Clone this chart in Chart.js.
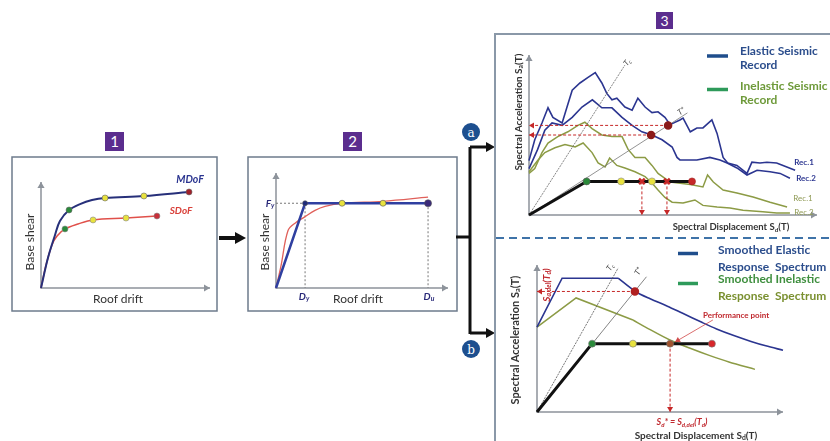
<!DOCTYPE html>
<html lang="en">
<head>
<meta charset="UTF-8">
<title>From pushover curve to performance point</title>
<script src="https://cdn.jsdelivr.net/npm/chart.js"></script>
<style>
  body { margin: 0; width: 830px; height: 441px; overflow: hidden; background: #fff;
         font-family: Lato, "Open Sans", sans-serif; position: relative; color: #333; }
  .plot { position: absolute; }
  .t { position: absolute; white-space: nowrap; transform: translate(-50%, -50%); }
  .v { position: absolute; white-space: nowrap; transform: translate(-50%, -50%) rotate(-90deg); }
  .l { position: absolute; white-space: nowrap; font-weight: bold; font-size: 12px; line-height: 14px; }
  .tag { position: absolute; width: 19px; height: 19px; background: #5b2d8e; color: #fff;
         font-size: 15px; line-height: 19px; text-align: center; }
  sub { font-size: 68%; vertical-align: -0.25em; }
  svg { position: absolute; left: 0; top: 0; }
</style>
</head>
<body>

<!-- frames, block arrows, bracket -->
<svg width="830" height="441">
  <rect x="12" y="157" width="205" height="154" fill="none" stroke="#6d7b8c" stroke-width="1.5"/>
  <rect x="248" y="157" width="209" height="154" fill="none" stroke="#6d7b8c" stroke-width="1.5"/>
  <line x1="219" y1="238" x2="238" y2="238" stroke="#111" stroke-width="4"/>
  <polygon points="235,232 246,238 235,244" fill="#111"/>
  <line x1="456" y1="237" x2="471" y2="237" stroke="#111" stroke-width="3"/>
  <line x1="470" y1="147" x2="470" y2="334" stroke="#111" stroke-width="3"/>
  <line x1="470" y1="147" x2="488" y2="147" stroke="#111" stroke-width="3"/>
  <polygon points="486,142 495,147 486,152" fill="#111"/>
  <line x1="470" y1="333" x2="488" y2="333" stroke="#111" stroke-width="3"/>
  <polygon points="486,328 495,333 486,338" fill="#111"/>
  <circle cx="471" cy="132" r="9" fill="#1d4f8f"/>
  <circle cx="471" cy="349" r="9" fill="#1d4f8f"/>
  <text x="471" y="136.5" fill="#fff" font-family="DejaVu Serif, serif" font-size="12" text-anchor="middle">a</text>
  <text x="471" y="353.5" fill="#fff" font-family="DejaVu Serif, serif" font-size="12" text-anchor="middle">b</text>
  <polyline points="830,34 495,34 495,441" fill="none" stroke="#8a98a8" stroke-width="2"/>
  <line x1="496" y1="238" x2="830" y2="238" stroke="#3f73a8" stroke-width="2" stroke-dasharray="8 5"/>
  <line x1="707" y1="56" x2="728" y2="56" stroke="#1f4e8c" stroke-width="3.5"/>
  <line x1="707" y1="89.5" x2="728" y2="89.5" stroke="#2e9a5a" stroke-width="3.5"/>
  <line x1="678" y1="253.5" x2="698" y2="253.5" stroke="#1f4e8c" stroke-width="3.5"/>
  <line x1="678" y1="283.5" x2="698" y2="283.5" stroke="#2e9a5a" stroke-width="3.5"/>
</svg>

<div class="plot" style="left:31px;top:172px;width:189px;height:126px"><canvas id="c1"></canvas></div>
<div class="plot" style="left:266px;top:163px;width:192px;height:135px"><canvas id="c2"></canvas></div>
<div class="plot" style="left:519px;top:45px;width:308px;height:180px"><canvas id="c3a"></canvas></div>
<div class="plot" style="left:527px;top:255px;width:266px;height:167px"><canvas id="c3b"></canvas></div>

<!-- panel tags -->
<div class="tag" style="left:105px;top:132px">1</div>
<div class="tag" style="left:343px;top:132px">2</div>
<div class="tag" style="left:656px;top:12px;width:17px;height:17px;line-height:17px;font-size:14px">3</div>

<!-- panel 1 -->
<div class="v" style="left:29px;top:242px;font-size:12px">Base shear</div>
<div class="t" style="left:118px;top:298px;font-size:12px">Roof drift</div>
<div class="t" style="left:190px;top:179px;font-size:10.5px;font-weight:bold;font-style:italic;color:#2b3590">MDoF</div>
<div class="t" style="left:181px;top:210px;font-size:10px;font-weight:bold;font-style:italic;color:#d9413a">SDoF</div>

<!-- panel 2 -->
<div class="v" style="left:264px;top:242px;font-size:12px">Base shear</div>
<div class="t" style="left:358px;top:298px;font-size:12px">Roof drift</div>
<div class="t" style="left:270px;top:203px;font-size:10px;font-weight:bold;font-style:italic;color:#2b2b7a">F<sub>y</sub></div>
<div class="t" style="left:304px;top:296px;font-size:10px;font-weight:bold;font-style:italic;color:#2b2b7a">D<sub>y</sub></div>
<div class="t" style="left:429px;top:296px;font-size:10px;font-weight:bold;font-style:italic;color:#2b2b7a">D<sub>u</sub></div>

<!-- panel 3a -->
<div class="v" style="left:518px;top:112px;font-size:10px;font-weight:bold">Spectral Acceleration S<sub>a</sub>(T)</div>
<div class="t" style="left:731px;top:227px;font-size:9.5px;font-weight:bold">Spectral Displacement S<sub>d</sub>(T)</div>
<div class="t" style="left:627px;top:62px;font-size:8px;font-style:italic;color:#444;transform:translate(-50%,-50%) rotate(-50deg)">T<sub>c</sub></div>
<div class="t" style="left:681px;top:111px;font-size:8px;font-style:italic;color:#444;transform:translate(-50%,-50%) rotate(-35deg)">T*</div>
<div class="t" style="left:804px;top:162px;font-size:8px;font-weight:bold;color:#2b3590">Rec.1</div>
<div class="t" style="left:806px;top:178px;font-size:8px;font-weight:bold;color:#2b3590">Rec.2</div>
<div class="t" style="left:803px;top:198px;font-size:8px;color:#8f9a55">Rec.1</div>
<div class="t" style="left:804px;top:212px;font-size:8px;color:#8f9a55">Rec.2</div>
<div class="l" style="left:740px;top:44px;color:#2b4d8c">Elastic Seismic<br>Record</div>
<div class="l" style="left:740px;top:79px;color:#6e9a3a">Inelastic Seismic<br>Record</div>

<!-- panel 3b -->
<div class="v" style="left:515px;top:340px;font-size:11px;font-weight:bold">Spectral Acceleration S<sub>a</sub>(T)</div>
<div class="v" style="left:546px;top:285px;font-size:10px;font-weight:bold;font-style:italic;color:#c0282e">S<sub>a,del</sub>(T<sub>d</sub>)</div>
<div class="t" style="left:610px;top:267px;font-size:8px;font-style:italic;color:#444;transform:translate(-50%,-50%) rotate(-55deg)">T<sub>c</sub></div>
<div class="t" style="left:638px;top:271px;font-size:8px;font-style:italic;color:#444;transform:translate(-50%,-50%) rotate(-60deg)">T*</div>
<div class="t" style="left:736px;top:315px;font-size:8px;font-weight:bold;color:#c0282e">Performance point</div>
<div class="t" style="left:682px;top:422px;font-size:9px;font-weight:bold;font-style:italic;color:#c0282e">S<sub>d</sub>* = S<sub>d,del</sub>(T<sub>d</sub>)</div>
<div class="t" style="left:696px;top:435px;font-size:10px;font-weight:bold">Spectral Displacement S<sub>d</sub>(T)</div>
<div class="l" style="left:718px;top:243px;color:#2b4d8c">Smoothed Elastic</div>
<div class="l" style="left:718px;top:260px;color:#2b4d8c">Response&nbsp; Spectrum</div>
<div class="l" style="left:718px;top:272px;color:#3f8f3f">Smoothed Inelastic</div>
<div class="l" style="left:718px;top:289px;color:#7a9030">Response&nbsp; Spectrum</div>

<script>
// ---- panel 1: pushover curves (roof drift vs base shear, arbitrary units 0..10)
const mdofDrift = [0, 0.41, 0.83, 1.12, 1.66, 2.31, 3.02, 3.79, 6.09, 8.76];
const mdofShear = [0, 2.83, 5.0, 6.32, 7.36, 7.92, 8.3, 8.49, 8.68, 9.06];
const sdofDrift = [0, 0.3, 0.65, 0.95, 1.42, 2.19, 3.08, 5.03, 6.86];
const sdofShear = [0, 2.17, 4.06, 4.9, 5.57, 6.04, 6.42, 6.6, 6.79];

// ---- panel 2: bilinear idealisation
const Dy = 1.69, Du = 8.84, Fy = 7.37;
const bilinDrift = [0, Dy, 3.84, 6.22, Du];
const bilinShear = [0, Fy, Fy, Fy, Fy];
const pushDrift = [0, 0.29, 0.7, 1.16, 1.63, 2.27, 2.85, 3.84, 6.22, 8.84];
const pushShear = [0, 1.93, 5.0, 5.7, 6.14, 6.75, 7.1, 7.37, 7.54, 7.9];

// ---- panel 3a: record spectra (Sd, Sa in 0..100)
const elasticRec1Sd = [0, 2, 4.5, 6.6, 8.3, 11.5, 13.2, 15, 17.7, 20.5, 23, 25.3, 27, 28.8, 30.5, 33.3, 35.8, 37.8, 40.3, 42.7, 44.8, 47.2, 49, 52.4, 53.5, 56, 58.3, 60.4, 63.5, 65.3, 67.4, 69, 72.2, 75.7, 77.4, 80.2, 82.6, 86, 88.2, 92.4];
const elasticRec1Sa = [34, 47, 57.5, 67, 61, 57.5, 67.5, 78, 82.5, 86, 89, 82.5, 76, 72, 73, 67.5, 65.5, 73, 67.5, 64, 64.5, 61, 56.5, 59.4, 60.6, 52, 54.4, 54.4, 59.4, 51, 36, 32.5, 31, 26, 33, 32.5, 33, 32.5, 31, 28];
const elasticRec2Sd = [0, 3, 5.5, 8, 11.5, 15, 18.4, 22, 25.3, 28.8, 32.3, 35.8, 39.2, 42.7, 46.2, 49.7, 51.4, 52.4, 58.3, 62.8, 66.3, 68.8, 72.2, 75.7, 79.2, 83.7, 87.2, 90.6];
const elasticRec2Sa = [29, 41, 53, 57.5, 56, 61, 67.5, 72, 67, 67, 61, 56, 52, 50, 47, 42.5, 36, 34.4, 34.4, 36, 34.4, 32.5, 29.4, 25, 28, 27, 26, 23];
const inelasticRec1Sd = [0, 2, 4.5, 6.6, 10, 13.5, 17, 19.4, 21.9, 25.3, 28.8, 32.3, 34.4, 36.8, 40.3, 42.7, 44.8, 49, 56, 60.4, 62, 64, 67.4, 72.2, 77.8, 83.7, 89.6];
const inelasticRec1Sa = [26, 29, 39, 45, 49, 52, 56, 58, 54, 50, 49, 49, 41, 36, 36, 31, 26, 20.6, 19, 17.5, 25, 20.6, 15.6, 13.8, 11.3, 8, 5];
const inelasticRec2Sd = [0, 3, 5.5, 9, 12.5, 16, 18.8, 21.9, 24, 26.4, 28, 30.5, 33.3, 36.8, 40.3, 42.7, 44.8, 47.2, 49.7, 53.5, 57.6, 60.4, 65.3, 69.8, 74.3, 81.2, 86, 90.6];
const inelasticRec2Sa = [27, 34, 39, 42, 44, 42.5, 45, 39, 32.5, 30, 35.6, 31, 29.4, 27, 24, 20, 15.6, 11, 8, 7.5, 9.4, 6, 5, 4.4, 3, 2, 1.3, 1.2];
const capASd = [0, 20, 32, 39.2, 42.7, 47.9, 56.6];
const capASa = [0, 21, 21, 21, 21, 21, 21];
const demandASd = [48.3, 42.4];   // intersections of T* with the elastic records
const demandASa = [56, 50];
const tcASd = [0, 33.3], tcASa = [0, 93.7];
const tStarASd = [0, 55], tStarASa = [0, 63.8];

// ---- panel 3b: smoothed spectra
const elasticRiseSd = [0, 10.2, 33];
const elasticRiseSa = [57.8, 91, 91];
const elasticTailSd = [33, 40, 46, 53, 59, 67, 73, 80, 87, 93, 100];
const elasticTailSa = [91, 82, 77, 72, 67.3, 61, 56.5, 52, 48, 45, 42];
const inelasticRiseSd = [0, 15.9, 39];
const inelasticRiseSa = [57.8, 77.6, 62.6];
const inelasticTailSd = [39, 46, 54, 62, 70, 78, 88.6];
const inelasticTailSa = [62.6, 56, 49, 43.5, 38.5, 34, 29];
const capBSd = [0, 22.4, 39, 54.1, 71.1];
const capBSa = [0, 46.5, 46.5, 46.5, 46.5];
const SaDel = 82, SdDel = 39.8, SdStar = 54.1;
const tcBSd = [0, 33], tcBSa = [0, 98];
const tStarBSd = [0, 44.5], tStarBSa = [0, 92];

const GREEN = '#2a8a3a', YELLOW = '#e8e23e', RED = '#c62828', NAVY = '#2b3590', OLIVE = '#8c9b45';

function head(ctx, x, y, ang, size, color) {
  ctx.save();
  ctx.translate(x, y); ctx.rotate(ang);
  ctx.fillStyle = color;
  ctx.beginPath(); ctx.moveTo(0, 0); ctx.lineTo(-size, -size * 0.6); ctx.lineTo(-size, size * 0.6); ctx.closePath();
  ctx.fill();
  ctx.restore();
}

// axes with arrow tips, and arrow tips on flagged datasets
const diagramPlugin = {
  id: 'diagram',
  beforeDatasetsDraw(chart) {
    const { ctx, chartArea: a } = chart;
    ctx.save();
    ctx.strokeStyle = '#8d939b'; ctx.lineWidth = 1.5;
    ctx.beginPath(); ctx.moveTo(a.left, a.top); ctx.lineTo(a.left, a.bottom); ctx.lineTo(a.right, a.bottom); ctx.stroke();
    ctx.restore();
    head(ctx, a.left, a.top, -Math.PI / 2, 6, '#8d939b');
    head(ctx, a.right, a.bottom, 0, 6, '#8d939b');
  },
  afterDatasetsDraw(chart) {
    chart.data.datasets.forEach((ds, i) => {
      if (!ds.arrowEnd) return;
      const pts = chart.getDatasetMeta(i).data;
      const p = pts[pts.length - 1], q = pts[pts.length - 2];
      head(chart.ctx, p.x, p.y, Math.atan2(p.y - q.y, p.x - q.x), 5, ds.borderColor);
    });
  }
};

function series(xs, ys, opts) {
  return Object.assign({
    data: xs.map((x, i) => ({ x: x, y: ys[i] })),
    showLine: true, pointRadius: 0, borderWidth: 1.5, clip: false, tension: 0
  }, opts);
}

function makeChart(id, xMax, yMax, datasets) {
  return new Chart(document.getElementById(id), {
    type: 'scatter',
    data: { datasets: datasets },
    options: {
      responsive: true, maintainAspectRatio: false, animation: false,
      layout: { padding: 10 },
      plugins: { legend: { display: false }, tooltip: { enabled: false } },
      scales: {
        x: { type: 'linear', min: 0, max: xMax, display: false },
        y: { type: 'linear', min: 0, max: yMax, display: false }
      }
    },
    plugins: [diagramPlugin]
  });
}

// panel 1
makeChart('c1', 10, 10, [
  series(mdofDrift, mdofShear, { borderColor: '#27307a', borderWidth: 2, tension: 0.35,
    pointRadius: [0, 0, 0, 0, 3, 0, 0, 3, 3, 3],
    pointBackgroundColor: [0, 0, 0, 0, GREEN, 0, 0, YELLOW, YELLOW, '#a0202a'].map(c => c || 'transparent'),
    pointBorderColor: '#666', pointBorderWidth: 0.6 }),
  series(sdofDrift, sdofShear, { borderColor: '#e0504a', borderWidth: 1.5, tension: 0.35,
    pointRadius: [0, 0, 0, 0, 3, 0, 3, 3, 3],
    pointBackgroundColor: [0, 0, 0, 0, GREEN, 0, YELLOW, YELLOW, '#c8303a'].map(c => c || 'transparent'),
    pointBorderColor: '#888', pointBorderWidth: 0.6 })
]);

// panel 2
makeChart('c2', 10, 10, [
  series(bilinDrift, bilinShear, { borderColor: '#2f3fa0', borderWidth: 2.5,
    pointRadius: [0, 2.5, 3, 3, 3.5],
    pointBackgroundColor: ['transparent', '#1e2a7a', YELLOW, YELLOW, '#3a2a7a'],
    pointBorderColor: '#555', pointBorderWidth: 0.6 }),
  series(pushDrift, pushShear, { borderColor: '#e0605a', borderWidth: 1.3, tension: 0.35 }),
  series([0, Dy], [Fy, Fy], { borderColor: '#777', borderWidth: 1, borderDash: [2, 2] }),
  series([Dy, Dy], [Fy, 0], { borderColor: '#777', borderWidth: 1, borderDash: [2, 2] }),
  series([Du, Du], [Fy, 0], { borderColor: '#777', borderWidth: 1, borderDash: [2, 2] })
]);

// panel 3a
makeChart('c3a', 100, 100, [
  series(capASd, capASa, { borderColor: '#111', borderWidth: 3,
    pointRadius: [0, 3.5, 3.5, 4, 3.5, 4, 3.5],
    pointStyle: ['circle', 'circle', 'circle', 'crossRot', 'circle', 'crossRot', 'circle'],
    pointBackgroundColor: ['transparent', GREEN, YELLOW, RED, YELLOW, RED, RED],
    pointBorderColor: ['#111', '#555', '#888', RED, '#888', RED, '#a02020'],
    pointBorderWidth: [0.6, 0.6, 0.6, 2.5, 0.6, 2.5, 0.6] }),
  series(demandASd, demandASa, { showLine: false, pointRadius: 3.5, pointBackgroundColor: '#8b1a1a', pointBorderColor: '#8b1a1a' }),
  series([demandASd[0], 0], [demandASa[0], demandASa[0]], { borderColor: RED, borderWidth: 1, borderDash: [3, 2], arrowEnd: true }),
  series([demandASd[1], 0], [demandASa[1], demandASa[1]], { borderColor: RED, borderWidth: 1, borderDash: [3, 2], arrowEnd: true }),
  series([capASd[3], capASd[3]], [capASa[3], 0], { borderColor: RED, borderWidth: 1, borderDash: [3, 2], arrowEnd: true }),
  series([capASd[5], capASd[5]], [capASa[5], 0], { borderColor: RED, borderWidth: 1, borderDash: [3, 2], arrowEnd: true }),
  series(tcASd, tcASa, { borderColor: '#666', borderWidth: 0.8, borderDash: [2, 1] }),
  series(tStarASd, tStarASa, { borderColor: '#777', borderWidth: 0.8 }),
  series(elasticRec1Sd, elasticRec1Sa, { borderColor: NAVY, borderWidth: 1.6 }),
  series(elasticRec2Sd, elasticRec2Sa, { borderColor: NAVY, borderWidth: 1.6 }),
  series(inelasticRec1Sd, inelasticRec1Sa, { borderColor: OLIVE, borderWidth: 1.5 }),
  series(inelasticRec2Sd, inelasticRec2Sa, { borderColor: OLIVE, borderWidth: 1.5 })
]);

// panel 3b
makeChart('c3b', 100, 100, [
  series(capBSd, capBSa, { borderColor: '#111', borderWidth: 3,
    pointRadius: [0, 3.5, 3.5, 3.5, 3.5],
    pointBackgroundColor: ['transparent', GREEN, YELLOW, '#a0522d', '#d8262a'],
    pointBorderColor: '#777', pointBorderWidth: 0.6 }),
  series([SdDel], [SaDel], { showLine: false, pointRadius: 3.5, pointBackgroundColor: '#b02020', pointBorderColor: '#b02020' }),
  series([SdDel, 0], [SaDel, SaDel], { borderColor: RED, borderWidth: 1, borderDash: [3, 2], arrowEnd: true }),
  series([SdStar, SdStar], [capBSa[3], 0], { borderColor: RED, borderWidth: 1, borderDash: [3, 2], arrowEnd: true }),
  series([71.5, 56.1], [62.6, 47.6], { borderColor: '#d04848', borderWidth: 0.8, arrowEnd: true }),
  series(tcBSd, tcBSa, { borderColor: '#555', borderWidth: 0.8, borderDash: [2, 1] }),
  series(tStarBSd, tStarBSa, { borderColor: '#666', borderWidth: 0.8 }),
  series(elasticRiseSd, elasticRiseSa, { borderColor: NAVY, borderWidth: 1.6 }),
  series(elasticTailSd, elasticTailSa, { borderColor: NAVY, borderWidth: 1.6, tension: 0.3 }),
  series(inelasticRiseSd, inelasticRiseSa, { borderColor: OLIVE, borderWidth: 1.5 }),
  series(inelasticTailSd, inelasticTailSa, { borderColor: OLIVE, borderWidth: 1.5, tension: 0.3 })
]);
</script>
</body>
</html>
